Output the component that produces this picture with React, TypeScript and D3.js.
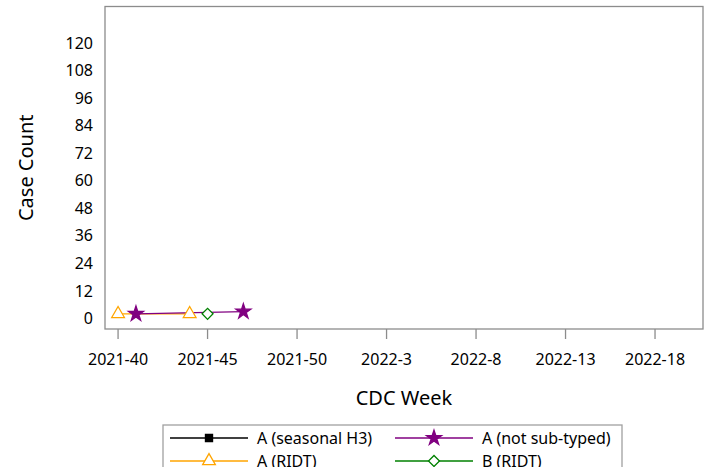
import React, { useEffect, useRef } from 'react';
import * as d3 from 'd3';

// weeks along the x axis (2021-40 .. 2022-20)
const weeks = [
  '2021-40', '2021-41', '2021-42', '2021-43', '2021-44', '2021-45', '2021-46', '2021-47',
  '2021-48', '2021-49', '2021-50', '2021-51', '2021-52', '2022-1', '2022-2', '2022-3',
  '2022-4', '2022-5', '2022-6', '2022-7', '2022-8', '2022-9', '2022-10', '2022-11',
  '2022-12', '2022-13', '2022-14', '2022-15', '2022-16', '2022-17', '2022-18', '2022-19',
  '2022-20',
];
const xTickLabels = ['2021-40', '2021-45', '2021-50', '2022-3', '2022-8', '2022-13', '2022-18'];
const yTicks = [0, 12, 24, 36, 48, 60, 72, 84, 96, 108, 120];

// series points: [week, count]
const seasonalH3: [string, number][] = [];
const notSubtyped: [string, number][] = [['2021-41', 2], ['2021-47', 3]];
const aRidt: [string, number][] = [['2021-40', 2], ['2021-44', 2]];
const bRidt: [string, number][] = [['2021-45', 2]];

const FONT = "'Noto Sans', 'Open Sans', sans-serif";

const series = [
  { name: 'A (seasonal H3)', color: '#000000', symbol: d3.symbolSquare, rot: 0, fill: true, size: 50, data: seasonalH3 },
  { name: 'A (not sub-typed)', color: '#800080', symbol: d3.symbolStar, rot: 0, fill: true, size: 70, data: notSubtyped },
  { name: 'A (RIDT)', color: '#FFA500', symbol: d3.symbolTriangle, rot: 0, fill: false, size: 70, data: aRidt },
  { name: 'B (RIDT)', color: '#008000', symbol: d3.symbolSquare, rot: 45, fill: false, size: 60, data: bRidt },
];

const App: React.FC = () => {
  const svgRef = useRef<SVGSVGElement>(null);

  useEffect(() => {
    if (!svgRef.current) return;
    const svg = d3.select(svgRef.current);
    svg.selectAll('*').remove();

    const left = 105, right = 703, top = 6.5, bottom = 329;

    const x = d3.scaleLinear().domain([-0.73, 32.68]).range([left, right]);
    const y = d3.scaleLinear().domain([-4.6, 136]).range([bottom, top]);
    const xi = (w: string) => x(weeks.indexOf(w));

    // frame
    svg.append('rect')
      .attr('x', left).attr('y', top)
      .attr('width', right - left).attr('height', bottom - top)
      .attr('fill', 'white').attr('stroke', '#8c8c8c').attr('stroke-width', 1.3);

    // y tick labels
    svg.append('g').selectAll('text').data(yTicks).join('text')
      .attr('x', 93).attr('y', d => y(d)).attr('dy', '0.35em')
      .attr('text-anchor', 'end')
      .style('font-family', FONT).style('font-size', '16px').attr('fill', '#000')
      .text(d => d);

    // x ticks
    const xg = svg.append('g');
    xg.selectAll('line').data(xTickLabels).join('line')
      .attr('x1', d => xi(d)).attr('x2', d => xi(d))
      .attr('y1', bottom).attr('y2', bottom + 10)
      .attr('stroke', '#8c8c8c').attr('stroke-width', 1.3);
    xg.selectAll('text').data(xTickLabels).join('text')
      .attr('x', d => xi(d)).attr('y', 365)
      .attr('text-anchor', 'middle')
      .style('font-family', FONT).style('font-size', '16px').attr('fill', '#000')
      .text(d => d);

    // axis titles
    svg.append('text')
      .attr('x', (left + right) / 2).attr('y', 405)
      .attr('text-anchor', 'middle')
      .style('font-family', FONT).style('font-size', '20px')
      .text('CDC Week');
    svg.append('text')
      .attr('transform', `translate(33,${(top + bottom) / 2}) rotate(-90)`)
      .attr('text-anchor', 'middle')
      .style('font-family', FONT).style('font-size', '20px')
      .text('Case Count');

    // series lines + markers
    const line = d3.line<[string, number]>().x(d => xi(d[0])).y(d => y(d[1]));
    const drawOrder = [series[0], series[2], series[1], series[3]];
    drawOrder.forEach(s => {
      if (s.data.length > 1) {
        svg.append('path').datum(s.data)
          .attr('d', line).attr('fill', 'none')
          .attr('stroke', s.color).attr('stroke-width', 1.3);
      }
    });
    drawOrder.forEach(s => {
      svg.append('g').selectAll('path').data(s.data).join('path')
        .attr('transform', d => `translate(${xi(d[0])},${y(d[1])}) rotate(${s.rot})`)
        .attr('d', d3.symbol(s.symbol, s.size)())
        .attr('fill', s.fill ? s.color : 'white')
        .attr('stroke', s.color).attr('stroke-width', 1.3);
    });

    // legend
    const lg = svg.append('g');
    lg.append('rect')
      .attr('x', 163).attr('y', 425).attr('width', 459).attr('height', 60)
      .attr('fill', 'white').attr('stroke', '#a0a0a0').attr('stroke-width', 1.3);
    const cols = [170, 395];
    const rows = [438, 461];
    series.forEach((s, i) => {
      const cx = cols[i % 2], cy = rows[Math.floor(i / 2)];
      lg.append('line')
        .attr('x1', cx).attr('x2', cx + 78).attr('y1', cy).attr('y2', cy)
        .attr('stroke', s.color).attr('stroke-width', 1.3);
      lg.append('path')
        .attr('transform', `translate(${cx + 39},${cy}) rotate(${s.rot})`)
        .attr('d', d3.symbol(s.symbol, s.size)())
        .attr('fill', s.fill ? s.color : 'white')
        .attr('stroke', s.color).attr('stroke-width', 1.3);
      lg.append('text')
        .attr('x', cx + 87).attr('y', cy).attr('dy', '0.35em')
        .style('font-family', FONT).style('font-size', '16px')
        .text(s.name);
    });
  }, []);

  return (
    <svg ref={svgRef} width={711} height={467}
      style={{ position: 'absolute', left: 0, top: 0, background: 'white' }} />
  );
};

export default App;
